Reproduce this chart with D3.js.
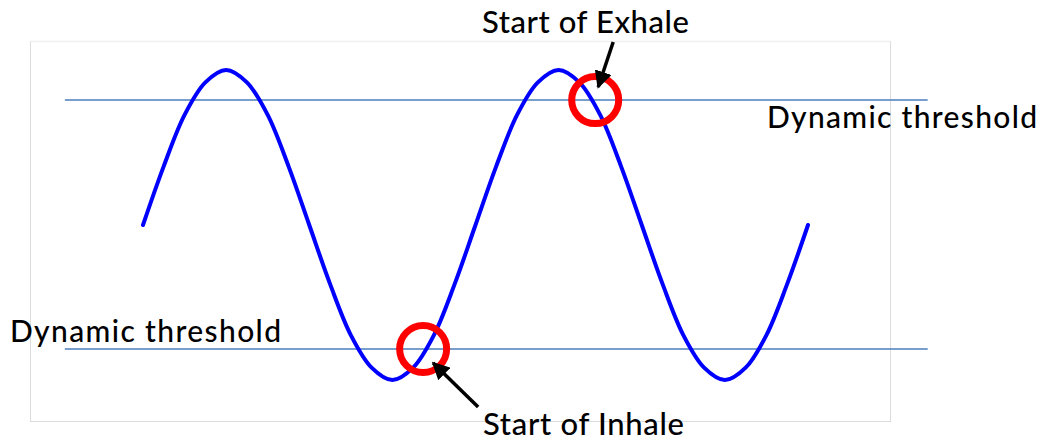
<!DOCTYPE html>
<html>
<head>
<meta charset="utf-8">
<script src="https://cdn.jsdelivr.net/npm/d3@7.9.0/dist/d3.min.js"></script>
<style>
  html, body { margin: 0; padding: 0; background: #fff; }
  svg { display: block; }
  text { font-family: Lato, "Open Sans", sans-serif; fill: #000; }
</style>
</head>
<body>
<svg id="chart"></svg>
<script>
// time axis (quarter periods) and signal values
const times = [0, 0.25, 0.5, 0.75, 1, 1.25, 1.5, 1.75, 2, 2.25, 2.5, 2.75, 3, 3.25, 3.5, 3.75,
               4, 4.25, 4.5, 4.75, 5, 5.25, 5.5, 5.75, 6, 6.25, 6.5, 6.75, 7, 7.25, 7.5, 7.75, 8];
const signal = [0, 0.38, 0.71, 0.92, 1, 0.92, 0.71, 0.38, 0, -0.38, -0.71, -0.92, -1, -0.92, -0.71, -0.38,
                0, 0.38, 0.71, 0.92, 1, 0.92, 0.71, 0.38, 0, -0.38, -0.71, -0.92, -1, -0.92, -0.71, -0.38, 0];

const thresholdValues = [0.806, -0.8];
const thresholdSpan = [-0.94, 9.44];

const eventNames = ["Start of Exhale", "Start of Inhale"];
const eventTimes = [5.44, 3.37];
const eventValues = [0.806, -0.8];

const width = 1044;
const height = 445;

const svg = d3.select('#chart')
    .attr('width', width)
    .attr('height', height);

let x = d3.scaleLinear().domain([0, 8]).range([143, 808]);
let y = d3.scaleLinear().domain([-1, 1]).range([380, 70]);

// plot frame
svg.append('rect')
    .attr('x', 30.5).attr('y', 41.5)
    .attr('width', 860).attr('height', 380)
    .attr('fill', 'none')
    .attr('stroke', '#dcdcdc')
    .attr('stroke-width', 1);
svg.append('line')
    .attr('x1', 30.5).attr('x2', 890.5)
    .attr('y1', 41.5).attr('y2', 41.5)
    .attr('stroke', '#f0f0f0')
    .attr('stroke-width', 1.5);

// threshold lines
thresholdValues.forEach(v => {
    svg.append('line')
        .attr('x1', x(thresholdSpan[0])).attr('x2', x(thresholdSpan[1]))
        .attr('y1', y(v)).attr('y2', y(v))
        .attr('stroke', '#4a7ebb')
        .attr('stroke-width', 1.5);
});

// breathing signal
let line = d3.line()
    .x((d, i) => x(times[i]))
    .y(d => y(d))
    .curve(d3.curveCatmullRom);

svg.append('path')
    .datum(signal)
    .attr('d', line)
    .attr('fill', 'none')
    .attr('stroke', '#0000ff')
    .attr('stroke-width', 4)
    .attr('stroke-linecap', 'round');

// threshold labels
svg.append('text')
    .attr('x', 1037).attr('y', y(thresholdValues[0]) + 28)
    .attr('text-anchor', 'end')
    .attr('font-size', 30)
    .attr('font-weight', 500)
    .attr('textLength', 270)
    .text('Dynamic threshold');
svg.append('text')
    .attr('x', 10).attr('y', y(thresholdValues[1]) - 7)
    .attr('font-size', 30)
    .attr('font-weight', 500)
    .attr('textLength', 271)
    .text('Dynamic threshold');

// arrow head
svg.append('defs').append('marker')
    .attr('id', 'head')
    .attr('viewBox', '0 0 10 10')
    .attr('refX', 9).attr('refY', 5)
    .attr('markerWidth', 5).attr('markerHeight', 5)
    .attr('markerUnits', 'strokeWidth')
    .attr('orient', 'auto')
    .append('path')
    .attr('d', 'M0,0 L10,5 L0,10 Z')
    .attr('fill', '#000');

// event markers
const arrowTail = [[18, -58], [55, 58]];
const arrowHead = [[3, -13], [10, 14]];
const labelPos = [[482, 33], [483, 435]];

eventNames.forEach((name, i) => {
    let cx = x(eventTimes[i]);
    let cy = y(eventValues[i]);
    svg.append('circle')
        .attr('cx', cx).attr('cy', cy)
        .attr('r', 23.5)
        .attr('fill', 'none')
        .attr('stroke', '#ff0000')
        .attr('stroke-width', 7);
    svg.append('line')
        .attr('x1', cx + arrowTail[i][0]).attr('y1', cy + arrowTail[i][1])
        .attr('x2', cx + arrowHead[i][0]).attr('y2', cy + arrowHead[i][1])
        .attr('stroke', '#000')
        .attr('stroke-width', 3.5)
        .attr('marker-end', 'url(#head)');
    svg.append('text')
        .attr('x', labelPos[i][0]).attr('y', labelPos[i][1])
        .attr('font-size', 31)
        .attr('font-weight', 500)
        .attr('textLength', i === 0 ? 207 : 201)
        .text(name);
});
</script>
</body>
</html>
